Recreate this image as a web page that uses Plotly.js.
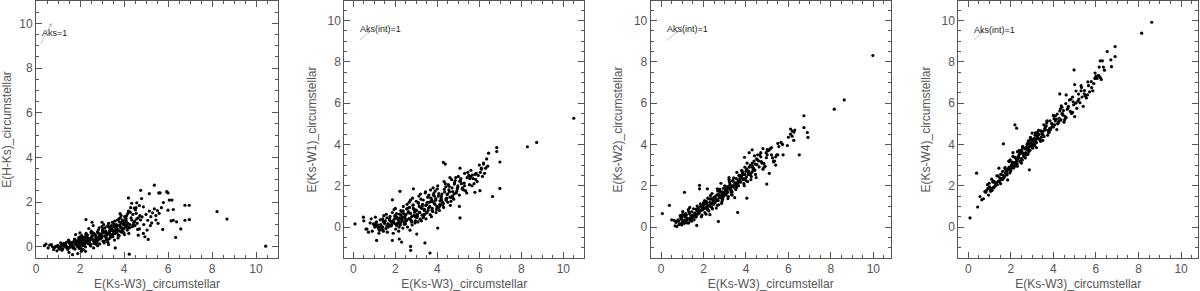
<!DOCTYPE html>
<html>
<head>
<meta charset="utf-8">
<script src="https://cdn.plot.ly/plotly-3.0.1.min.js"></script>
<style>html,body{margin:0;padding:0;background:#fff;}#chart{width:1200px;height:291px;}</style>
</head>
<body>
<div id="chart"></div>
<script>
// ---- Data ----
const xTitle = 'E(Ks-W3)_circumstellar';
const yTitles = ['E(H-Ks)_circumstellar', 'E(Ks-W1)_circumstellar', 'E(Ks-W2)_circumstellar', 'E(Ks-W4)_circumstellar'];
const tickValues = [0, 2, 4, 6, 8, 10];

// Panel 1: E(H-Ks) vs E(Ks-W3)
const hks_x = [
0.38,0.45,0.55,0.62,0.7,0.75,0.8,0.85,0.9,0.95,
0.98,1.0,1.02,1.05,1.08,1.1,1.12,1.15,1.18,1.2,
1.22,1.25,1.28,1.3,1.33,1.35,1.38,1.4,1.42,1.45,
1.48,1.5,1.52,1.55,1.57,1.6,1.62,1.65,1.66,1.68,
1.7,1.72,1.75,1.77,1.8,1.82,1.84,1.86,1.88,1.9,
1.92,1.94,1.95,1.97,1.98,2.0,2.02,2.03,2.05,2.06,
2.08,2.1,2.12,2.13,2.15,2.17,2.18,2.2,2.21,2.23,
2.25,2.26,2.28,2.3,2.31,2.33,2.35,2.36,2.38,2.4,
2.41,2.43,2.45,2.46,2.48,2.5,2.51,2.53,2.55,2.56,
2.58,2.6,2.62,2.63,2.65,2.67,2.68,2.7,2.72,2.73,
2.75,2.77,2.78,2.8,2.82,2.83,2.85,2.87,2.88,2.9,
2.92,2.93,2.95,2.97,2.98,3.0,3.02,3.03,3.05,3.07,
3.08,3.1,3.12,3.13,3.15,3.17,3.18,3.2,3.22,3.23,
3.25,3.27,3.28,3.3,3.32,3.33,3.35,3.37,3.38,3.4,
3.42,3.43,3.45,3.47,3.48,3.5,3.52,3.53,3.55,3.57,
3.58,3.6,3.62,3.63,3.65,3.67,3.68,3.7,3.72,3.73,
3.75,3.77,3.78,3.8,3.82,3.83,3.85,3.87,3.88,3.9,
3.92,3.93,3.95,3.97,3.98,4.0,4.02,4.03,4.05,4.07,
4.08,4.1,4.12,4.13,4.15,4.17,4.18,4.2,4.22,4.23,
4.25,4.27,4.28,4.3,4.32,4.35,4.38,4.4,4.42,4.45,
4.48,4.5,4.52,4.55,4.58,4.6,4.62,4.65,4.7,4.72,
1.5,1.9,2.25,2.8,3.3,2.4,2.0,3.0,1.8,2.6,
5.38,4.76,4.2,5.15,5.58,5.64,5.94,6.0,5.79,6.06,
6.18,6.77,6.97,6.0,6.24,6.77,6.97,6.14,6.24,6.39,
6.58,6.35,5.76,8.23,8.68,10.44,4.24,2.27,5.05,4.47,
4.58,4.8,4.88,5.0,5.15,5.22,5.3,5.38,5.45,5.52,
4.82,5.08,5.26,4.88,4.95,5.1,4.65,3.82,4.75,4.9,
5.6,5.45,5.7,4.7,4.55,4.35,5.2,5.55,3.6,2.55,
1.31,1.47,1.58,1.69,1.76,1.83,1.96,2.04,2.09,2.14,
2.19,2.24,2.29,2.34,2.39,2.44,2.49,2.54,2.59,2.64,
2.69,2.74,2.79,2.84,2.89,2.94,2.99,3.04,3.09,3.14,
3.19,3.24,3.29,3.34,3.39,3.44,3.49,3.54,3.59,3.64,
3.69,3.74,3.79,3.84,3.89,3.94,3.99,4.04,4.09,4.14,
1.11,1.27,1.41,1.53,1.64,1.79,1.87,1.99,2.11,2.22];
const hks_y = [
0.05,0.12,-0.05,0.08,0.1,0.0,-0.12,-0.03,0.02,-0.18,
0.06,0.04,-0.02,-0.1,0.0,-0.06,0.18,0.15,-0.15,0.1,
-0.08,0.05,0.12,0.1,0.02,0.08,0.2,0.0,-0.03,-0.12,
0.3,0.25,0.15,-0.02,0.05,0.06,0.1,0.18,-0.35,-0.05,
0.22,-0.05,0.35,-0.1,0.12,0.15,0.12,0.25,0.02,0.08,
0.28,0.4,0.15,0.3,0.0,0.45,0.2,0.1,-0.08,-0.2,
0.5,0.3,0.05,0.1,-0.12,0.42,0.35,0.22,0.25,0.18,
0.0,0.55,0.6,0.45,0.32,0.3,0.38,0.15,0.2,0.28,
0.28,0.22,0.38,0.08,0.12,0.62,0.7,0.4,0.48,0.35,
0.52,0.62,-0.05,0.15,0.3,0.18,0.25,0.55,0.45,0.38,
0.1,0.2,0.32,0.4,0.3,0.75,0.6,0.85,0.52,0.45,
0.55,0.35,0.48,0.42,0.5,0.9,0.68,0.75,0.25,0.62,
1.0,0.18,0.48,0.85,0.65,0.7,0.42,0.3,0.6,0.55,
0.58,0.2,0.95,1.05,0.88,0.65,0.38,0.8,0.5,0.72,
0.82,0.95,0.45,1.1,0.75,0.55,0.6,0.7,0.9,0.3,
1.15,0.68,0.88,0.8,1.0,0.9,0.62,1.2,0.78,0.4,
0.72,1.25,0.5,0.95,0.98,1.3,0.85,1.4,1.08,0.65,
0.7,1.2,0.78,1.0,0.82,1.05,0.55,1.35,1.12,0.9,
1.22,1.15,1.4,0.95,0.75,1.05,1.5,1.6,0.6,0.88,
0.85,1.0,1.55,1.75,1.3,1.2,0.9,1.45,1.0,1.1,
1.15,0.95,1.65,1.5,1.25,1.05,0.78,1.3,1.85,1.4,
-0.25,-0.3,-0.2,0.05,0.1,0.82,0.62,1.1,0.55,0.95,
2.76,2.53,2.19,2.38,2.41,2.41,2.47,2.41,1.98,2.09,
2.09,1.86,1.86,1.64,1.67,1.19,1.22,1.16,1.19,1.12,
0.8,0.42,0.78,1.58,1.24,0.03,-0.33,1.22,0.75,1.73,
1.97,2.16,1.79,1.45,1.6,1.35,1.52,1.7,1.4,1.62,
1.34,1.19,1.07,0.6,0.45,0.33,0.52,1.49,1.2,1.0,
1.5,1.2,1.75,0.8,1.75,1.95,0.95,1.05,-0.05,1.1,
0.07,-0.04,0.19,0.02,0.28,0.11,-0.07,0.36,0.14,0.27,
0.09,0.41,0.23,0.52,0.17,0.33,0.04,0.46,0.29,0.58,
0.21,0.44,0.66,0.35,0.13,0.57,0.41,0.79,0.26,0.63,
0.48,0.92,0.34,0.71,0.56,0.83,0.45,1.02,0.6,0.77,
0.94,0.52,1.12,0.69,0.86,1.18,0.64,0.97,1.28,0.81,
0.03,0.14,-0.06,0.21,0.09,0.31,0.05,0.24,0.4,0.16];

// Panel 2: E(Ks-W1) vs E(Ks-W3)
const w1_x = [
0.5,0.6,0.65,0.72,0.8,0.85,0.9,0.95,1.0,1.02,
1.05,1.08,1.1,1.13,1.15,1.18,1.2,1.22,1.25,1.28,
1.3,1.33,1.35,1.38,1.4,1.43,1.45,1.48,1.5,1.52,
1.55,1.57,1.6,1.62,1.65,1.67,1.7,1.72,1.75,1.77,
1.8,1.82,1.84,1.86,1.88,1.9,1.92,1.94,1.96,1.98,
2.0,2.02,2.04,2.06,2.08,2.1,2.12,2.14,2.16,2.18,
2.2,2.22,2.24,2.26,2.28,2.3,2.32,2.34,2.36,2.38,
2.4,2.42,2.44,2.46,2.48,2.5,2.52,2.54,2.56,2.58,
2.6,2.62,2.64,2.66,2.68,2.7,2.72,2.74,2.76,2.78,
2.8,2.82,2.84,2.86,2.88,2.9,2.92,2.94,2.96,2.98,
3.0,3.02,3.04,3.06,3.08,3.1,3.12,3.14,3.16,3.18,
3.2,3.22,3.24,3.26,3.28,3.3,3.32,3.34,3.36,3.38,
3.4,3.42,3.44,3.46,3.48,3.5,3.52,3.54,3.56,3.58,
3.6,3.62,3.64,3.66,3.68,3.7,3.72,3.74,3.76,3.78,
3.8,3.82,3.84,3.86,3.88,3.9,3.92,3.94,3.96,3.98,
4.0,4.02,4.05,4.08,4.1,4.12,4.15,4.18,4.2,4.22,
4.25,4.28,4.3,4.32,4.35,4.38,4.4,4.42,4.45,4.48,
4.5,4.52,4.55,4.58,4.6,4.62,4.65,4.68,4.7,4.72,
4.75,4.78,4.8,4.82,4.85,4.88,4.9,4.93,4.95,4.98,
5.0,5.05,5.1,5.12,5.15,5.2,5.25,5.3,5.35,5.4,
5.45,5.5,5.55,5.6,5.65,5.7,5.75,5.8,5.85,5.9,
5.95,6.0,6.05,6.1,6.15,6.2,1.4,2.0,2.5,3.0,
10.5,8.73,8.29,6.83,6.83,6.98,6.98,6.63,6.44,6.2,
6.3,6.1,6.35,6.25,6.4,4.29,4.38,5.08,5.08,5.05,
6.03,5.79,2.22,1.86,2.86,4.02,3.41,3.65,2.73,2.73,
2.19,2.3,1.86,1.11,0.08,0.48,3.02,5.6,5.3,4.6,
1.07,1.24,1.42,1.59,1.73,1.87,1.99,2.07,2.13,2.19,
2.25,2.31,2.37,2.43,2.49,2.55,2.61,2.67,2.73,2.79,
2.85,2.91,2.97,3.03,3.09,3.15,3.21,3.27,3.33,3.39,
3.45,3.51,3.57,3.63,3.69,3.75,3.81,3.87,3.93,3.99,
4.07,4.13,4.19,4.27,4.33,4.41,4.47,4.56,4.64,4.73,
4.81,4.89,4.97,5.07,5.18,5.28,5.42,5.53,5.67,5.82];
const w1_y = [
0.3,-0.1,-0.1,-0.25,0.2,0.4,-0.2,0.15,0.1,0.0,
0.48,0.22,0.25,0.05,0.1,-0.05,0.0,-0.3,-0.15,0.35,
0.12,0.05,-0.05,-0.12,0.4,-0.2,0.55,0.18,0.2,0.3,
-0.08,0.62,0.45,-0.25,0.15,0.0,0.1,0.35,0.52,0.28,
0.05,0.1,0.2,0.7,0.3,-0.3,0.25,0.85,0.4,0.55,
0.9,-0.1,0.5,0.65,0.45,0.15,0.2,0.35,-0.2,0.0,
0.45,0.25,0.1,0.8,0.58,0.38,0.72,0.3,-0.05,1.0,
0.65,0.2,0.5,0.42,0.15,0.6,0.3,0.88,1.1,0.0,
0.68,0.75,0.4,1.2,0.95,-0.15,1.3,0.35,0.25,0.5,
0.1,1.4,1.05,0.9,0.55,0.82,0.72,0.2,0.3,0.48,
1.25,0.8,0.62,0.55,0.25,1.15,1.5,1.0,0.7,0.38,
1.6,1.35,0.3,0.9,1.0,1.1,0.45,0.5,0.6,0.8,
0.62,1.65,1.7,0.4,0.7,1.1,1.2,1.45,0.8,0.92,
1.55,1.2,1.0,0.6,1.8,1.4,0.5,1.3,0.9,0.75,
1.9,1.2,1.65,1.5,1.1,1.75,1.3,0.7,0.85,1.0,
1.85,2.0,1.5,0.95,0.8,1.1,1.05,1.4,1.3,1.6,
1.2,1.15,0.95,2.2,1.7,2.1,1.95,1.3,1.4,1.6,
1.2,2.05,1.8,1.7,1.45,1.05,1.25,2.3,1.9,1.5,
1.4,1.35,1.6,2.15,2.25,2.4,1.65,1.75,1.85,2.0,
2.45,1.55,2.25,2.35,2.1,1.9,1.8,2.0,1.75,1.65,
2.65,2.5,2.35,2.75,2.0,2.35,2.1,2.55,2.6,2.2,
2.5,3.0,2.65,2.85,2.45,3.1,0.0,0.15,0.3,0.5,
5.27,4.1,3.89,3.85,3.66,3.15,1.87,1.48,3.58,3.05,
2.85,2.8,3.3,2.6,2.95,3.13,3.05,2.85,0.44,1.0,
1.76,1.68,1.73,1.32,1.85,-0.05,-0.77,-1.26,-0.94,-1.13,
-0.58,-0.73,-0.65,-0.65,0.15,0.48,-0.34,2.45,2.6,2.4,
0.11,-0.14,0.27,0.06,0.41,0.19,0.52,0.08,0.37,0.63,
0.22,0.47,0.79,0.14,0.58,0.35,0.92,0.41,0.66,0.27,
1.08,0.55,0.83,0.47,1.18,0.71,0.95,0.58,1.31,0.86,
1.04,0.69,1.46,0.97,1.23,0.81,1.56,1.14,1.38,0.92,
1.62,1.27,1.49,1.09,1.83,1.36,1.58,1.97,1.44,1.72,
2.08,1.66,1.92,2.21,1.84,2.13,2.39,2.05,2.52,2.31];

// Panel 3: E(Ks-W2) vs E(Ks-W3)
const w2_x = [
0.7,0.75,0.8,0.85,0.88,0.9,0.93,0.95,0.98,1.0,
1.02,1.05,1.07,1.1,1.12,1.15,1.17,1.2,1.22,1.25,
1.28,1.3,1.33,1.35,1.38,1.4,1.43,1.45,1.48,1.5,
1.53,1.55,1.58,1.6,1.63,1.65,1.68,1.7,1.73,1.75,
1.78,1.8,1.83,1.85,1.88,1.9,1.93,1.95,1.98,2.0,
2.02,2.05,2.07,2.1,2.12,2.15,2.17,2.2,2.22,2.25,
2.27,2.3,2.32,2.35,2.37,2.4,2.42,2.45,2.47,2.5,
2.52,2.55,2.57,2.6,2.62,2.65,2.67,2.7,2.72,2.75,
2.77,2.8,2.82,2.85,2.87,2.9,2.92,2.95,2.97,3.0,
3.02,3.05,3.07,3.1,3.12,3.15,3.17,3.2,3.22,3.25,
3.27,3.3,3.32,3.35,3.37,3.4,3.42,3.45,3.47,3.5,
3.52,3.55,3.57,3.6,3.62,3.65,3.67,3.7,3.72,3.75,
3.77,3.8,3.82,3.85,3.87,3.9,3.92,3.95,3.97,4.0,
4.03,4.05,4.08,4.1,4.13,4.15,4.18,4.2,4.23,4.25,
4.28,4.3,4.33,4.35,4.38,4.4,4.43,4.45,4.48,4.5,
4.55,4.6,4.65,4.7,4.75,4.8,4.85,4.9,4.95,5.0,
5.05,5.1,5.15,5.2,5.25,5.3,5.35,5.4,5.45,5.5,
2.1,2.4,2.6,2.9,3.1,3.3,3.6,3.9,2.3,2.75,
1.6,1.95,2.5,2.85,3.15,3.45,3.7,4.0,4.3,3.8,
1.15,1.4,1.0,0.95,1.3,1.7,2.2,2.65,3.35,2.0,
9.98,8.63,8.16,6.73,6.73,6.89,6.92,6.51,6.1,6.18,
6.26,6.3,6.1,6.0,6.18,6.25,5.95,5.75,5.55,5.5,
5.65,5.72,4.98,4.29,3.61,0.39,0.06,1.1,1.81,1.81,
2.18,1.68,0.66,0.74,2.7,5.1,5.2,5.0,4.7,4.55,
3.93,4.8,4.15,5.3,4.4,0.5,0.62,5.4,3.2,4.04,
0.83,0.97,1.09,1.19,1.32,1.44,1.56,1.66,1.76,1.86,
1.96,2.04,2.09,2.14,2.19,2.24,2.29,2.34,2.39,2.44,
2.49,2.54,2.59,2.64,2.69,2.74,2.79,2.84,2.89,2.94,
2.99,3.04,3.09,3.14,3.19,3.24,3.29,3.34,3.39,3.44,
3.49,3.54,3.59,3.64,3.69,3.74,3.79,3.84,3.89,3.94,
4.02,4.12,4.22,4.32,4.42,4.52,4.62,4.72,4.84,4.96];
const w2_y = [
0.22,0.28,0.35,0.12,0.15,0.55,0.45,0.38,0.1,0.6,
0.75,0.3,0.58,0.18,0.5,0.65,0.25,0.45,0.35,0.2,
0.85,0.75,0.65,0.95,0.32,0.42,0.28,0.42,0.5,0.55,
0.88,0.35,0.68,0.6,0.48,0.52,0.78,1.02,0.75,0.9,
0.7,0.68,0.82,1.12,0.8,0.5,0.58,1.0,0.92,1.18,
0.9,1.28,0.7,1.12,0.62,1.18,0.98,1.4,1.05,0.78,
1.02,0.6,1.52,0.98,1.38,1.62,0.88,1.32,1.1,1.25,
1.2,1.3,1.5,0.92,1.3,1.85,1.75,1.6,1.08,1.42,
1.82,1.7,2.12,1.15,1.25,1.35,1.45,1.52,1.62,2.0,
1.72,1.82,1.55,1.68,1.92,1.38,1.48,2.3,2.2,2.02,
1.9,1.78,1.58,1.7,2.25,1.95,2.38,2.05,1.42,2.12,
1.82,1.92,2.65,2.15,2.1,2.0,2.5,2.5,2.35,2.2,
2.4,2.75,2.7,2.6,2.3,2.1,2.0,2.9,2.35,2.25,
2.8,3.1,2.2,2.55,2.65,2.9,2.55,3.0,2.3,2.45,
2.65,3.1,2.75,2.85,3.2,2.75,3.05,2.55,2.4,3.3,
3.25,3.2,3.5,3.4,3.1,2.8,2.9,2.95,3.6,3.5,
3.7,3.75,3.8,3.85,3.35,3.15,3.2,3.4,3.5,3.5,
0.95,1.15,1.35,1.7,1.78,1.7,2.15,2.55,1.2,1.5,
0.62,0.88,1.2,1.55,1.95,2.0,2.3,2.7,2.95,2.48,
0.3,0.55,0.25,0.15,0.2,0.62,0.85,1.05,1.55,1.1,
8.31,6.16,5.71,5.39,4.82,4.58,4.34,3.5,4.75,4.65,
4.6,4.7,4.5,4.35,4.4,4.2,3.95,3.5,3.9,4.05,
4.1,4.0,2.08,3.74,0.71,1.05,0.65,1.68,2.02,1.85,
1.85,0.08,0.06,0.03,0.27,2.6,3.5,3.75,3.6,3.5,
3.38,3.8,3.6,3.2,3.45,0.35,0.32,3.0,2.4,1.4,
0.29,0.47,0.33,0.58,0.41,0.73,0.56,0.87,0.64,0.99,
0.83,1.11,0.91,1.23,0.86,1.02,1.35,1.14,0.97,1.29,
1.44,1.19,1.37,1.56,1.28,1.49,1.71,1.41,1.63,1.88,
1.57,1.76,1.95,1.68,1.87,2.1,1.79,2.0,2.22,1.93,
2.14,2.35,2.03,2.26,2.48,2.17,2.41,2.62,2.33,2.55,
2.42,2.71,2.59,2.88,2.76,3.02,2.91,3.17,3.08,3.36];

// Panel 4: E(Ks-W4) vs E(Ks-W3)
const w4_x = [
0.78,0.82,0.86,0.9,0.95,0.98,1.0,1.03,1.05,1.08,
1.1,1.12,1.15,1.18,1.2,1.22,1.25,1.28,1.3,1.33,
1.36,1.4,1.42,1.45,1.47,1.5,1.52,1.55,1.57,1.6,
1.62,1.65,1.67,1.7,1.72,1.75,1.77,1.8,1.82,1.85,
1.87,1.9,1.92,1.95,1.97,2.0,2.02,2.04,2.06,2.08,
2.1,2.12,2.14,2.16,2.18,2.2,2.22,2.24,2.26,2.28,
2.3,2.32,2.34,2.36,2.38,2.4,2.42,2.44,2.46,2.48,
2.5,2.52,2.54,2.56,2.58,2.6,2.62,2.64,2.66,2.68,
2.7,2.72,2.74,2.76,2.78,2.8,2.82,2.84,2.86,2.88,
2.9,2.92,2.94,2.96,2.98,3.0,3.02,3.04,3.06,3.08,
3.1,3.12,3.14,3.16,3.18,3.2,3.22,3.24,3.26,3.28,
3.3,3.33,3.36,3.4,3.43,3.46,3.5,3.53,3.56,3.6,
3.63,3.66,3.7,3.73,3.76,3.8,3.83,3.86,3.9,3.93,
3.96,4.0,4.03,4.06,4.1,4.13,4.16,4.2,4.23,4.26,
4.3,4.33,4.36,4.4,4.43,4.46,4.5,4.53,4.56,4.6,
4.65,4.7,4.75,4.8,4.85,4.9,4.95,5.0,5.05,5.1,
5.15,5.2,5.25,5.3,5.35,5.4,5.45,5.5,5.55,5.6,
5.7,5.8,5.9,6.0,6.05,6.1,6.2,5.95,5.65,5.85,
2.19,2.27,1.65,0.39,0.08,0.44,0.55,0.63,0.71,2.87,
1.44,4.97,8.62,8.15,6.9,6.9,6.53,6.3,6.15,6.2,
6.35,6.4,6.7,6.73,6.25,4.3,4.6,5.0,5.3,4.9,
2.5,2.1,3.0,3.5,4.0,3.2,2.3,1.9,4.4,3.7,
0.92,1.06,1.17,1.26,1.34,1.43,1.53,1.63,1.73,1.83,
1.93,2.01,2.07,2.13,2.19,2.25,2.31,2.37,2.43,2.49,
2.55,2.61,2.67,2.73,2.79,2.85,2.91,2.97,3.03,3.09,
3.15,3.21,3.27,3.34,3.41,3.48,3.55,3.62,3.69,3.76,
3.84,3.92,4.01,4.09,4.18,4.27,4.37,4.47,4.58,4.69,
4.82,4.93,5.06,5.18,5.32,5.46,5.62,5.78,5.96,6.12];
const w4_y = [
1.72,1.68,1.78,2.05,1.55,2.12,1.95,1.82,1.73,1.88,
2.32,1.78,2.18,1.92,1.9,2.2,1.98,2.02,2.15,2.08,
2.05,2.48,2.22,2.2,2.4,2.28,2.1,2.55,2.35,2.3,
2.7,2.5,2.38,2.45,2.85,2.62,2.75,2.6,2.52,2.28,
2.82,2.8,2.9,2.62,3.25,2.72,2.95,3.0,3.05,3.15,
3.42,2.88,2.9,2.95,3.1,3.12,3.35,3.05,3.3,3.2,
3.05,3.3,3.4,3.4,3.5,3.72,3.18,3.55,3.15,3.62,
3.65,3.75,3.25,3.9,3.58,3.42,3.48,3.55,3.8,3.35,
3.6,3.85,3.85,4.0,3.75,3.52,4.18,3.65,3.95,4.08,
3.72,4.35,3.95,4.2,4.25,4.05,3.82,3.9,4.12,4.02,
4.3,3.98,4.45,4.2,4.08,4.1,4.52,4.4,4.6,4.3,
4.68,4.48,4.25,4.15,4.35,4.55,4.48,4.65,4.38,4.78,
4.88,4.9,5.12,4.45,4.6,4.58,4.78,4.7,4.82,5.0,
4.95,4.85,5.25,4.95,5.38,5.22,4.72,5.0,5.05,5.12,
5.62,5.72,5.18,5.48,5.5,5.42,5.08,5.2,5.35,5.3,
5.7,5.85,6.15,5.6,5.5,5.55,5.92,5.35,6.0,5.75,
6.1,6.2,6.02,6.6,6.3,5.85,6.45,6.35,6.25,6.4,
6.55,6.75,6.95,7.3,7.2,7.32,7.25,7.2,6.85,6.6,
4.95,4.79,4.03,2.61,0.44,0.97,1.48,1.32,1.37,2.77,
2.85,7.61,9.92,9.39,8.74,8.26,8.5,8.05,7.75,8.05,
7.75,7.6,8.1,7.77,7.15,6.45,6.4,6.9,6.85,6.3,
3.1,3.6,4.55,4.2,5.4,3.85,2.95,3.2,5.8,5.15,
1.87,1.86,2.23,2.14,2.48,2.2,2.57,2.35,2.88,2.73,
3.17,2.82,3.11,2.86,3.37,3.16,3.65,3.35,3.59,3.32,
3.88,3.53,3.79,3.5,4.06,3.85,4.23,3.89,4.21,3.95,
4.56,4.29,4.55,4.26,4.66,4.5,4.95,4.71,5.04,4.68,
5.15,5.01,5.41,5.14,5.47,5.27,5.87,5.64,5.98,5.77,
6.19,6.07,6.59,6.44,6.76,6.61,7.03,7.04,7.46,7.35];

// Extinction-vector annotation (tail -> head) and its label, one per panel
const aksLabels = ['Aks=1', 'Aks(int)=1', 'Aks(int)=1', 'Aks(int)=1'];
const aksTailX = [0.18, 0.24, 0.19, 0.21];
const aksTailY = [9.02, 8.98, 8.98, 8.98];
const aksHeadX = [0.71, 0.80, 0.82, 0.70];
const aksHeadY = [10.01, 9.51, 9.51, 9.51];
const aksLabelX = [0.18, 0.21, 0.19, 0.16];
const aksLabelY = [9.59, 9.58, 9.58, 9.56];

// ---- Layout geometry ----
const W = 1200, H = 291;
const panelPx = [[36, 278], [344.3, 584.3], [650.7, 890.7], [958.3, 1198.3]];
const yDomain = [1 - 258 / H, 1 - 1 / H];
const xRanges = [[0, 11], [-0.43, 11], [-0.49, 10.82], [-0.47, 10.81]];
const yRanges = [[-0.5, 11.0], [-1.5, 10.95], [-1.5, 10.95], [-1.5, 10.95]];

const series = [[hks_x, hks_y], [w1_x, w1_y], [w2_x, w2_y], [w4_x, w4_y]];
const axColor = '#555';
const fontFam = 'Liberation Sans, Arial, sans-serif';

const traces = [];
const layout = {
  width: W, height: H,
  margin: {l: 0, r: 0, t: 0, b: 0},
  paper_bgcolor: '#fff', plot_bgcolor: '#fff',
  showlegend: false,
  font: {family: fontFam, color: axColor},
  annotations: []
};

function axisBase() {
  return {
    showline: true, linecolor: axColor, linewidth: 1, mirror: 'allticks',
    ticks: 'inside', ticklen: 6, tickwidth: 1, tickcolor: axColor,
    tickmode: 'array', tickvals: tickValues, ticktext: tickValues.map(String),
    showgrid: false, zeroline: false, fixedrange: true,
    tickfont: {family: fontFam, size: 12, color: axColor},
    minor: {dtick: 0.5, tick0: 0, ticks: 'inside', ticklen: 3, tickwidth: 1, tickcolor: axColor, showgrid: false}
  };
}

for (let i = 0; i < 4; i++) {
  const n = i === 0 ? '' : String(i + 1);
  const xa = 'x' + n, ya = 'y' + n;
  traces.push({
    type: 'scatter', mode: 'markers',
    x: series[i][0], y: series[i][1],
    xaxis: xa, yaxis: ya,
    marker: {color: '#000', size: 3.2, line: {width: 0}},
    hoverinfo: 'skip'
  });
  const xax = axisBase();
  xax.domain = [panelPx[i][0] / W, panelPx[i][1] / W];
  xax.range = xRanges[i];
  xax.anchor = ya;
  xax.title = {text: xTitle, font: {family: fontFam, size: 12, color: axColor}, standoff: 5};
  const yax = axisBase();
  yax.domain = yDomain;
  yax.range = yRanges[i];
  yax.anchor = xa;
  yax.title = {text: yTitles[i], font: {family: fontFam, size: 12, color: axColor}, standoff: 8};
  layout['xaxis' + n] = xax;
  layout['yaxis' + n] = yax;

  layout.annotations.push({
    xref: xa, yref: ya, axref: xa, ayref: ya,
    x: aksHeadX[i], y: aksHeadY[i], ax: aksTailX[i], ay: aksTailY[i],
    text: '', showarrow: true, arrowhead: 2, arrowsize: 0.8, arrowwidth: 0.7,
    arrowcolor: '#aaa', standoff: 0, startstandoff: 0
  });
  layout.annotations.push({
    xref: xa, yref: ya, x: aksLabelX[i], y: aksLabelY[i],
    text: aksLabels[i], showarrow: false, xanchor: 'left', yanchor: 'middle',
    font: {family: fontFam, size: 9, color: '#222'}
  });
}

Plotly.newPlot('chart', traces, layout, {staticPlot: true, displayModeBar: false});
</script>
</body>
</html>
